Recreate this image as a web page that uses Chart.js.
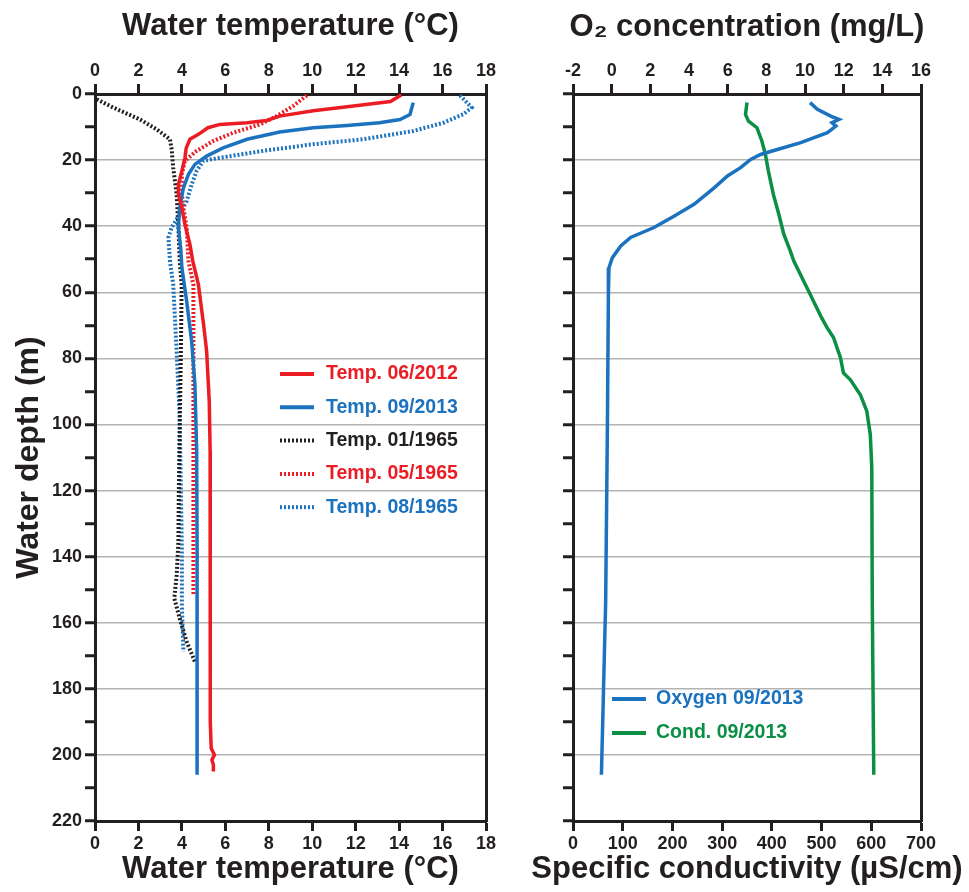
<!DOCTYPE html>
<html>
<head>
<meta charset="utf-8">
<script src="https://cdn.jsdelivr.net/npm/chart.js@4.4.1/dist/chart.umd.min.js"></script>
<style>
  html, body { margin: 0; padding: 0; background: #fff; overflow: hidden; }
  #wrap { position: relative; width: 969px; height: 892px; }
  canvas { position: absolute; top: 0; }
  #temp-chart { left: 0; }
  #chem-chart { left: 525px; }
</style>
</head>
<body>
<div id="wrap">
  <canvas id="temp-chart" width="500" height="892"></canvas>
  <canvas id="chem-chart" width="444" height="892"></canvas>
</div>
<script>
// depth profiles (m, °C / mg/L / µS/cm)
const t2012Depth = [0.3, 2.3, 3.6, 5.1, 6.7, 8.0, 8.7, 9.2, 10.2, 12.2, 13.7, 16.3, 19.3, 23.3, 27.4, 30.4, 34.4, 39.5, 45.5, 50.5, 57.7, 69.8, 77.9, 93, 108, 138, 170, 190, 198, 200, 201.5, 203, 205];
const t2012Temp = [14.1, 13.6, 11.9, 10.05, 8.5, 7.9, 7.0, 5.75, 5.2, 4.76, 4.37, 4.2, 4.14, 4.0, 3.84, 3.84, 4.0, 4.14, 4.37, 4.5, 4.76, 5.0, 5.14, 5.26, 5.3, 5.3, 5.3, 5.32, 5.35, 5.5, 5.38, 5.45, 5.45];

const t2013Depth = [2.6, 6.2, 7.7, 8.7, 9.5, 10.2, 11.5, 13.7, 16.3, 18.8, 21.3, 24.3, 28.4, 34.4, 40.4, 47, 52.6, 62.7, 74.8, 88, 108, 138, 170, 206];
const t2013Temp = [14.65, 14.5, 14.04, 13.1, 11.6, 10.05, 8.5, 7.0, 5.9, 5.14, 4.6, 4.3, 4.07, 3.9, 3.84, 3.95, 4.0, 4.22, 4.45, 4.6, 4.68, 4.7, 4.7, 4.7];

const jan1965Depth = [1.6, 4.1, 7.7, 10.7, 13.7, 16.8, 22.3, 30.4, 40.4, 50.5, 57.7, 80, 100, 120, 135.5, 145.5, 152.6, 158.7, 165.8, 171.8];
const jan1965Temp = [0.08, 0.84, 2.07, 2.84, 3.45, 3.53, 3.6, 3.76, 3.84, 3.9, 3.99, 3.95, 3.9, 3.86, 3.84, 3.76, 3.65, 3.9, 4.22, 4.6];

const may1965Depth = [0.4, 3.6, 6.7, 9.2, 11.7, 14.2, 17.2, 20.2, 24.3, 30.4, 34.4, 40.4, 50.5, 57.7, 77.9, 110, 138, 151.6];
const may1965Temp = [9.75, 9.13, 8.36, 7.6, 6.37, 5.45, 4.68, 4.14, 4.0, 4.0, 4.07, 4.22, 4.3, 4.53, 4.53, 4.53, 4.53, 4.53];

const aug1965Depth = [0.4, 4.1, 6.1, 8.7, 11.2, 13.7, 15.2, 17.2, 19.3, 20.2, 23.3, 27.4, 32.4, 36.4, 40.4, 43.4, 50.5, 57.7, 77.9, 98, 138, 155, 168.8];
const aug1965Temp = [16.8, 17.34, 16.96, 16.04, 14.65, 12.35, 10.05, 7.75, 5.75, 4.99, 4.68, 4.45, 4.22, 3.9, 3.53, 3.38, 3.45, 3.6, 3.76, 3.9, 4.0, 4.0, 4.07];

const oxyDepth = [2.6, 4.6, 6.7, 7.7, 8.7, 9.7, 11.7, 14.7, 16.8, 18.3, 19.8, 22.3, 24.8, 28.4, 33.4, 37, 40.4, 43.4, 46, 49.6, 52.6, 60.7, 100, 153.6, 206];
const oxyValue = [10.26, 10.64, 11.33, 11.76, 11.4, 11.6, 11.16, 9.78, 8.57, 7.7, 7.19, 6.67, 5.99, 5.3, 4.26, 3.22, 2.19, 0.98, 0.47, 0.03, -0.14, -0.17, -0.22, -0.31, -0.53];

const condDepth = [2.6, 6.2, 8.2, 10.2, 14.3, 18.3, 23.3, 30.4, 36.4, 42.4, 47.5, 50.5, 54.5, 60.6, 67.7, 70.7, 73.7, 79.8, 84.4, 86.5, 91, 96, 103, 113, 153.6, 206];
const condValue = [350, 347, 353, 370, 380, 387, 393, 403, 414, 424, 437, 444, 457, 477, 500, 511, 524, 538, 544, 558, 578, 591, 598, 601, 602, 605];

const red = '#ec1c24';
const blue = '#1b72bf';
const green = '#0a8f45';
const ink = '#231f20';
const sans = "'Liberation Sans', Arial, sans-serif";

const tickFont = { family: sans, size: 18, weight: 'bold' };
const titleFont = { family: sans, size: 31, weight: 'bold' };

function profile(label, depths, values, color, dash, axis) {
  return {
    label: label,
    data: depths.map((d, i) => ({ x: values[i], y: d })),
    borderColor: color,
    backgroundColor: color,
    borderWidth: dash ? 4 : 3.5,
    borderDash: dash || [],
    pointRadius: 0,
    tension: 0,
    fill: false,
    xAxisID: axis || 'x',
    yAxisID: 'y'
  };
}

function depthScale(width, labelled) {
  return {
    type: 'linear', position: 'left', reverse: true, min: 0, max: 220,
    afterFit: s => { s.width = width; },
    border: { color: ink, width: 3 },
    grid: {
      color: c => (c.tick && c.tick.value % 20 === 0 && c.tick.value > 0 && c.tick.value < 220) ? '#b3b3b3' : 'rgba(0,0,0,0)',
      lineWidth: 1.5, tickColor: ink, tickWidth: 3, tickLength: 10
    },
    ticks: {
      stepSize: 10, padding: 3, color: ink, font: tickFont, autoSkip: false,
      callback: v => (labelled && v % 20 === 0) ? v : ''
    },
    title: {
      display: labelled, text: 'Water depth (m)', color: ink,
      font: { family: sans, size: 32, weight: 'bold' },
      padding: { top: 10, bottom: 0 }
    }
  };
}

function valueScale(pos, min, max, step, height, title, titlePad) {
  return {
    type: 'linear', position: pos, min: min, max: max,
    afterFit: s => { s.height = height; },
    border: { color: ink, width: 3 },
    grid: { drawOnChartArea: false, tickColor: ink, tickWidth: 3, tickLength: 10 },
    ticks: { stepSize: step, padding: 2, color: ink, font: tickFont, maxRotation: 0, autoSkip: false },
    title: { display: !!title, text: title || '', color: ink, font: titleFont, padding: titlePad }
  };
}

// right-hand frame line; its width is the margin to the canvas edge
function frameRight(width) {
  return {
    type: 'linear', position: 'right', min: 0, max: 220, reverse: true,
    afterFit: s => { s.width = width; },
    ticks: { display: false },
    grid: { display: false },
    border: { color: ink, width: 3 }
  };
}

// legend drawn inside the plot area
const insideLegend = {
  id: 'insideLegend',
  afterDatasetsDraw(chart, args, opts) {
    const ctx = chart.ctx;
    ctx.save();
    ctx.font = 'bold 19.5px ' + sans;
    ctx.textBaseline = 'middle';
    chart.data.datasets.forEach((ds, i) => {
      const y = opts.y + i * opts.gap;
      ctx.strokeStyle = ds.borderColor;
      ctx.lineWidth = 4;
      ctx.setLineDash(ds.borderDash || []);
      ctx.beginPath();
      ctx.moveTo(opts.x, y);
      ctx.lineTo(opts.x + opts.len, y);
      ctx.stroke();
      ctx.setLineDash([]);
      ctx.fillStyle = ds.borderColor;
      ctx.fillText(ds.label, opts.x + opts.len + opts.space, y);
    });
    ctx.restore();
  }
};

new Chart(document.getElementById('temp-chart'), {
  type: 'line',
  data: {
    datasets: [
      profile('Temp. 06/2012', t2012Depth, t2012Temp, red),
      profile('Temp. 09/2013', t2013Depth, t2013Temp, blue),
      profile('Temp. 01/1965', jan1965Depth, jan1965Temp, ink, [2, 2]),
      profile('Temp. 05/1965', may1965Depth, may1965Temp, red, [2, 2]),
      profile('Temp. 08/1965', aug1965Depth, aug1965Temp, blue, [2, 2])
    ]
  },
  options: {
    responsive: false,
    animation: false,
    layout: { padding: 0 },
    scales: {
      x: valueScale('top', 0, 18, 2, 94, 'Water temperature (°C)', { top: 8, bottom: 0 }),
      x2: valueScale('bottom', 0, 18, 2, 71, 'Water temperature (°C)', { top: 0, bottom: 4 }),
      y: depthScale(95, true),
      yr: frameRight(14)
    },
    plugins: {
      legend: { display: false },
      tooltip: { enabled: false },
      insideLegend: { x: 280, y: 374, gap: 33.3, len: 34, space: 12 }
    }
  },
  plugins: [insideLegend]
});

// the right panel titles are wider than its plot, so they go in the chart title / subtitle
new Chart(document.getElementById('chem-chart'), {
  type: 'line',
  data: {
    datasets: [
      profile('Oxygen 09/2013', oxyDepth, oxyValue, blue, null, 'x'),
      profile('Cond. 09/2013', condDepth, condValue, green, null, 'x2')
    ]
  },
  options: {
    responsive: false,
    animation: false,
    layout: { padding: 0 },
    scales: {
      x: valueScale('top', -2, 16, 2, 48.4),
      x2: valueScale('bottom', 0, 700, 100, 29.4),
      y: depthScale(48, false),
      yr: frameRight(48)
    },
    plugins: {
      legend: { display: false },
      tooltip: { enabled: false },
      title: {
        display: true, position: 'top', text: 'O₂ concentration (mg/L)',
        color: ink, font: titleFont, padding: { top: 8.4, bottom: 0 }
      },
      subtitle: {
        display: true, position: 'bottom', text: 'Specific conductivity (µS/cm)',
        color: ink, font: titleFont, padding: { top: 0, bottom: 4.4 }
      },
      insideLegend: { x: 87, y: 699, gap: 34, len: 34, space: 10 }
    }
  },
  plugins: [insideLegend]
});
</script>
</body>
</html>
